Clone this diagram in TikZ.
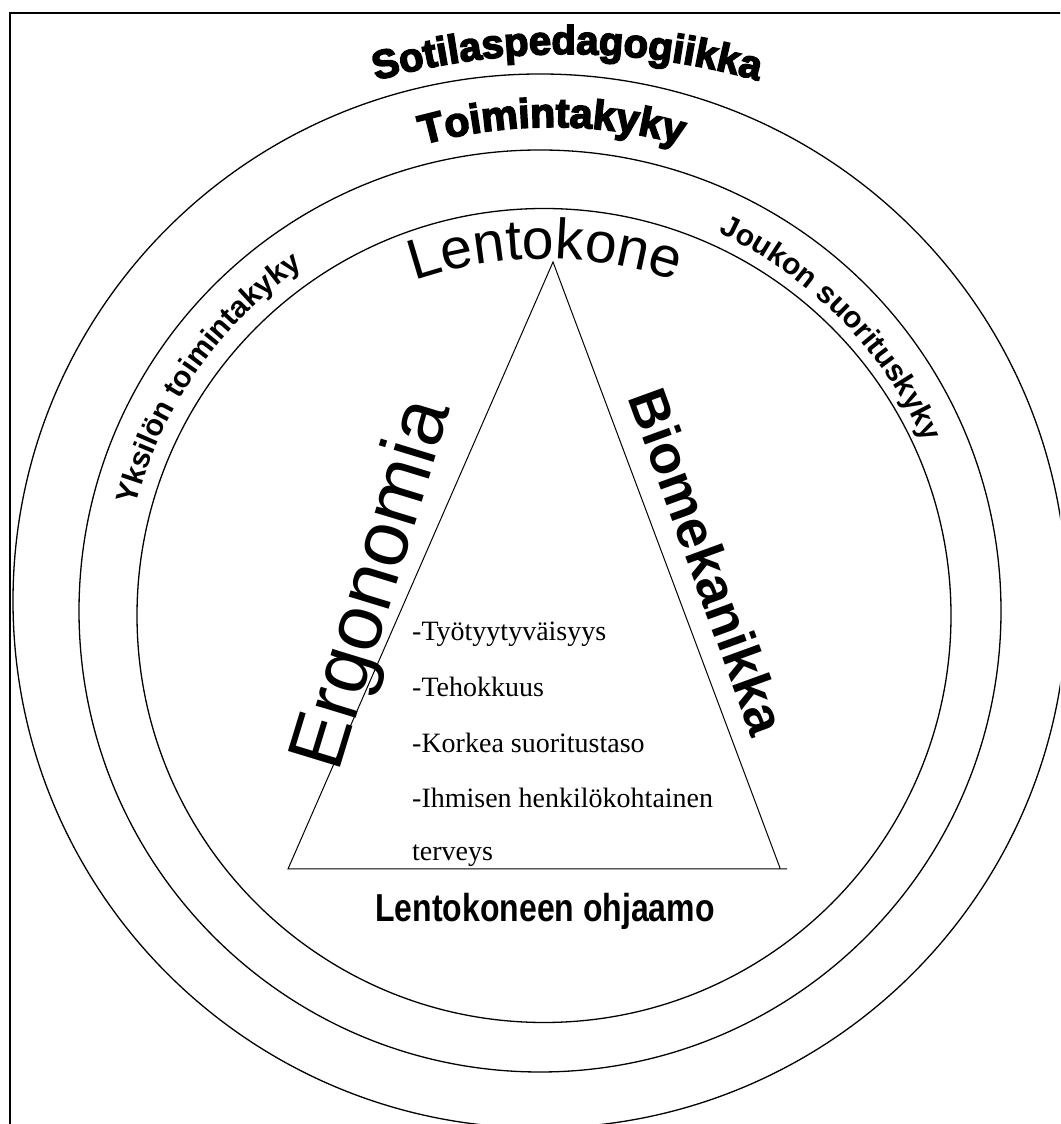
\documentclass[tikz,border=0pt]{standalone}
\usepackage{fontspec}
\setmainfont{Liberation Serif}
\newfontfamily\arialfont{Liberation Sans}
\newfontfamily\blackfont{Liberation Sans}[FakeBold=4]
\newfontfamily\narrowfont{Liberation Sans}[FakeStretch=0.82]
\usepackage{tikz}
\usetikzlibrary{decorations.text}

\newcommand\sotifont{\blackfont\bfseries\fontsize{40}{40}\selectfont}
\newcommand\toimifont{\blackfont\bfseries\fontsize{41}{41}\selectfont}
\newcommand\konefont{\arialfont\fontsize{57}{57}\selectfont}
\newcommand\ringfont{\arialfont\bfseries\fontsize{30}{30}\selectfont}

\begin{document}
\begin{tikzpicture}[x=1pt,y=1pt,
    ring/.style={line width=1.3pt},
    arctext/.style={decorate, decoration={text along path, text align=center}},
    item/.style={anchor=base west, inner sep=0pt, font=\fontsize{28}{28}\selectfont}]
    \useasboundingbox (0,0) rectangle (1060,1124);
    \clip (0,0) rectangle (1060,1124);

    % Frame
    \draw[line width=1.6pt] (10,-5) -- (10,1111) -- (1065,1111);

    % Rings
    \draw[ring] (540,523) circle (527);
    \draw[ring] (540,513) circle (461);
    \draw[ring] (544,508.5) circle (407);

    % Triangle
    \coordinate (apex) at (553,862);
    \coordinate (lfoot) at (288,255);
    \coordinate (rend) at (787,255);
    \coordinate (rfoot) at (780,256);
    \draw[line width=1pt] (rfoot) -- (apex) -- (lfoot) -- (rend);

    % Curved labels
    \path[arctext, decoration={text={|\sotifont|Sotilaspedagogiikka}}]
        (567,370) ++(120:700) arc[start angle=120, end angle=60, radius=700];
    \path[arctext, decoration={text={|\toimifont|Toimintakyky}}]
        (552,513) ++(120:484) arc[start angle=120, end angle=60, radius=484];
    \path[arctext, decoration={text={|\konefont|Lentokone}}]
        (545,462) ++(120:403) arc[start angle=120, end angle=60, radius=403];
    \path[arctext, decoration={text={|\ringfont|Joukon suorituskyky}}]
        (542,512) ++(79:418) arc[start angle=79, end angle=10, radius=418];
    \path[arctext, decoration={text={|\ringfont|Yksilön toimintakyky}}]
        (542,512) ++(180:420) arc[start angle=180, end angle=110, radius=420];

    % Triangle sides
    \node[rotate=73, font=\arialfont\fontsize{79}{79}\selectfont] (ergo) at (375,539) {Ergonomia};
    \node[rotate=-70, font=\arialfont\bfseries\fontsize{54}{54}\selectfont] (bio) at (708,562) {Biomekanikka};

    % Goals
    \node[item] (goal1) at (412,483) {-Työtyytyväisyys};
    \node[item] (goal2) at (412,427) {-Tehokkuus};
    \node[item] (goal3) at (412,371) {-Korkea suoritustaso};
    \node[item] (goal4) at (412,316) {-Ihmisen henkilökohtainen};
    \node[item] (goal5) at (412,263) {terveys};

    \node[anchor=base, inner sep=0pt, font=\narrowfont\bfseries\fontsize{39}{39}\selectfont] (cockpit) at (545,202) {Lentokoneen ohjaamo};
\end{tikzpicture}
\end{document}
